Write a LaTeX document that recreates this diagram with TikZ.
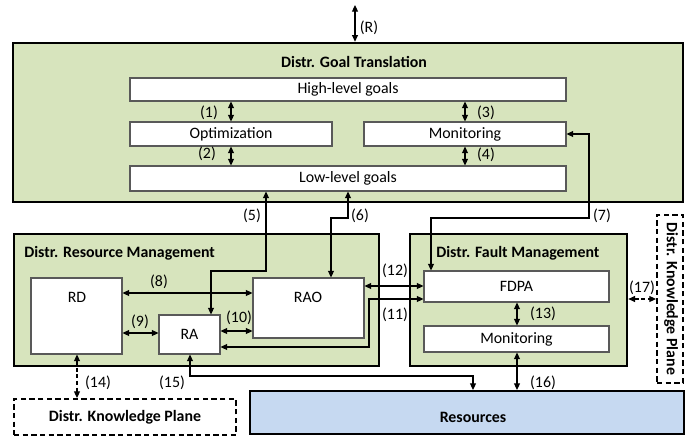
\documentclass[tikz,border=0pt]{standalone}
\usepackage{fontspec}
\setmainfont{Carlito}
\usetikzlibrary{arrows.meta,fit}

\definecolor{dgreen}{HTML}{D7E4BD}
\definecolor{rblue}{HTML}{C6D9F1}
\definecolor{boxgray}{HTML}{595959}

\begin{document}
\begin{tikzpicture}[x=0.75pt,y=-0.75pt,
  every node/.style={font=\fontsize{11.9}{14}\selectfont},
  plane/.style={draw=black, line width=2pt, fill=dgreen, inner sep=0pt},
  inbox/.style={draw=boxgray, line width=0.8pt, fill=white, inner sep=0pt},
  kp/.style={draw=black, line width=1.5pt, dash pattern=on 4pt off 2.5pt, inner sep=0pt},
  resbox/.style={draw=black, line width=1.5pt, fill=rblue, inner sep=0pt},
  head/.style={font=\fontsize{11.9}{14}\selectfont\bfseries, inner sep=0pt},
  tag/.style={inner sep=0pt},
  mid/.style={label={[tag]center:#1}},
  tip/.tip={Triangle[length=5pt,width=4.5pt]},
  blink/.style={line width=0.8pt, tip-tip},
  dlink/.style={blink, dash pattern=on 3pt off 2pt}
]
\useasboundingbox (0,0) rectangle (685,436);

% planes
\node[plane, fit={(13,43) (683,202)}] (dgt) {};
\node[plane, fit={(14,234) (379,366)}] (drm) {};
\node[plane, fit={(410,234) (627,366)}] (dfm) {};
\node[kp, fit={(657,215) (683,383)}] (kpr) {};
\node[kp, fit={(14,399) (236,435)}] (kpb) {};
\node[resbox, fit={(250,391) (684,434)}] (res) {};

% goal translation
\node[inbox, fit={(130,78) (566,101)}, mid={High-level goals}] (hl) {};
\node[inbox, fit={(130,122) (332,146)}, mid={Optimization}] (opt) {};
\node[inbox, fit={(364,122) (566,146)}, mid={Monitoring}] (mon) {};
\node[inbox, fit={(130,166) (566,191)}, mid={Low-level goals}] (ll) {};

% resource management
\node[inbox, fit={(31,278) (122,354)}] (rd) {};
\node[inbox, fit={(159,315) (220,354)}, mid={RA}] (ra) {};
\node[inbox, fit={(253,278) (364,338)}] (rao) {};
\node[tag] (rdtext) at (77,297) {RD};
\node[tag] (raotext) at (308,297) {RAO};

% fault management
\node[inbox, fit={(424,271) (609,302)}, mid={FDPA}] (fdpa) {};
\node[inbox, fit={(424,326) (609,352)}, mid={Monitoring}] (fmon) {};

% headings
\node[head] (hdgt) at (354,62) {Distr. Goal Translation};
\node[head, anchor=west] (hdrm) at (24,253) {Distr. Resource Management};
\node[head, anchor=west] (hdfm) at (436,253) {Distr. Fault Management};
\node[head] (hkpb) at (125,417) {Distr. Knowledge Plane};
\node[head, rotate=-90] (hkpr) at (671,299) {Distr. Knowledge Plane};
\node[head] (hres) at (473,417) {Resources};

% bend points
\coordinate (rtop) at (355,5);
\coordinate (x1) at (231,0);
\coordinate (x3) at (465,0);
\coordinate (b5a) at (211,271);
\coordinate (b5b) at (266,271);
\coordinate (b6a) at (348,218);
\coordinate (b6b) at (331,218);
\coordinate (b7a) at (589,134);
\coordinate (b7b) at (589,218);
\coordinate (b7c) at (431,218);
\coordinate (y8) at (0,293);
\coordinate (y9) at (0,333);
\coordinate (y10) at (0,331);
\coordinate (b11a) at (369,347);
\coordinate (b11b) at (369,299);
\coordinate (y12) at (0,286);
\coordinate (x13) at (517,0);
\coordinate (x14) at (77,0);
\coordinate (b15a) at (190,376);
\coordinate (b15b) at (473,376);
\coordinate (y17) at (0,299);

% connectors
\draw[blink] (rtop) -- (rtop |- dgt.north);
\draw[blink] (hl.south -| x1) -- (opt.north -| x1);
\draw[blink] (opt.south -| x1) -- (ll.north -| x1);
\draw[blink] (hl.south -| x3) -- (mon.north -| x3);
\draw[blink] (mon.south -| x3) -- (ll.north -| x3);
\draw[blink] (ra.north -| b5a) -- (b5a) -- (b5b) -- (ll.south -| b5b);
\draw[blink] (ll.south -| b6a) -- (b6a) -- (b6b) -- (rao.north -| b6b);
\draw[blink] (mon.east |- b7a) -- (b7a) -- (b7b) -- (b7c) -- (fdpa.north -| b7c);
\draw[blink] (rd.east |- y8) -- (rao.west |- y8);
\draw[blink] (rd.east |- y9) -- (ra.west |- y9);
\draw[blink] (ra.east |- y10) -- (rao.west |- y10);
\draw[blink] (ra.east |- b11a) -- (b11a) -- (b11b) -- (fdpa.west |- b11b);
\draw[blink] (rao.east |- y12) -- (fdpa.west |- y12);
\draw[blink] (fdpa.south -| x13) -- (fmon.north -| x13);
\draw[dlink] (rd.south -| x14) -- (kpb.north -| x14);
\draw[blink] (ra.south -| b15a) -- (b15a) -- (b15b) -- (res.north -| b15b);
\draw[blink] (fmon.south -| x13) -- (res.north -| x13);
\draw[dlink] (dfm.east |- y17) -- (kpr.west |- y17);

% connector labels
\node[tag] (lR) at (369,28) {(R)};
\node[tag] (l1) at (209,113) {(1)};
\node[tag] (l2) at (207,154) {(2)};
\node[tag] (l3) at (486,113) {(3)};
\node[tag] (l4) at (486,155) {(4)};
\node[tag] (l5) at (252,216) {(5)};
\node[tag] (l6) at (360,216) {(6)};
\node[tag] (l7) at (602,216) {(7)};
\node[tag] (l8) at (159,282) {(8)};
\node[tag] (l9) at (140,322) {(9)};
\node[tag] (l10) at (239,318) {(10)};
\node[tag] (l11) at (395,315) {(11)};
\node[tag] (l12) at (395,271) {(12)};
\node[tag] (l13) at (543,314) {(13)};
\node[tag] (l14) at (98,383) {(14)};
\node[tag] (l15) at (172,383) {(15)};
\node[tag] (l16) at (543,383) {(16)};
\node[tag] (l17) at (642,288) {(17)};
\end{tikzpicture}
\end{document}
